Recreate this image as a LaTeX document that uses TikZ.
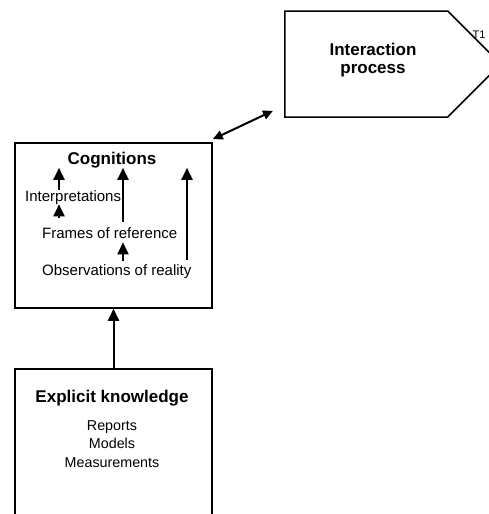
\documentclass[tikz,border=0pt]{standalone}
\usepackage{fontspec}
\setmainfont{Liberation Sans}
\usetikzlibrary{shapes.symbols,arrows.meta,calc}

\begin{document}
\begin{tikzpicture}[x=1pt,y=-1pt,
    box/.style={draw,line width=1.5pt,minimum width=197pt,inner sep=0pt},
    head/.style={font=\fontsize{17}{18}\selectfont\bfseries,inner sep=0pt},
    item/.style={font=\fontsize{15}{18}\selectfont,inner sep=0pt},
    small/.style={font=\fontsize{14.3}{18.5}\selectfont,inner sep=0pt},
    arr/.style={-{Triangle[length=12pt,width=11pt]},line width=2pt},
    dblarr/.style={{Triangle[length=10pt,width=9pt]}-{Triangle[length=10pt,width=9pt]},line width=2pt}]
      \clip (0,0) rectangle (489,514);
      %%%%%%%%%%%%%%%%%%%%%%%%%%%%%%%%%%%%%%%%%%%%%%%
      \node[draw,line width=1.5pt,shape=signal,signal to=east,signal pointer angle=90,
            minimum width=216pt,minimum height=106pt,inner sep=0pt,anchor=west] at (284,64) (ip) {};
      \node[head,align=center,anchor=north] at (373,43) (iptext) {Interaction\\process};
      \node[font=\fontsize{11}{13}\selectfont,inner sep=0pt,anchor=base] at (479,38) (t1) {T1};
      %%%%%%%%%%%%%%%%%%%%%%%%%%%%%%%%%%%%%%%%%%%%%%%
      \node[box,minimum height=165pt] at (113.5,225.5) (cogbox) {};
      \node[head,anchor=base] at (112,164) (cog) {Cognitions};
      \node[item,anchor=base west] at (25,201) (interp) {Interpretations};
      \node[item,anchor=base west] at (42,238) (frames) {Frames of reference};
      \node[item,anchor=base west] at (42,275) (obs) {Observations of reality};
      \coordinate (colA) at (59,0);
      \coordinate (colB) at (123,0);
      \coordinate (colC) at (187,0);
      \draw[arr] (interp.north -| colA) -- (cog.south -| colA);
      \draw[arr] ($(frames.north -| colA)+(0,-9)$) -- (interp.south -| colA);
      \draw[arr] ($(frames.north -| colB)+(0,-5)$) -- (cog.south -| colB);
      \draw[arr] ($(obs.north -| colB)+(0,-3)$) -- ($(frames.south -| colB)+(0,4)$);
      \draw[arr] ($(obs.north -| colC)+(0,-4)$) -- (cog.south -| colC);
      %%%%%%%%%%%%%%%%%%%%%%%%%%%%%%%%%%%%%%%%%%%%%%%
      \draw[dblarr] ($(cogbox.north east)+(0,-3)$) -- ($(ip.south west)+(-11,-7)$);
      %%%%%%%%%%%%%%%%%%%%%%%%%%%%%%%%%%%%%%%%%%%%%%%
      \node[box,minimum height=200pt,anchor=north] at (113.5,368) (expbox) {};
      \node[head,anchor=base] at (112,402) (exp) {Explicit knowledge};
      \node[small,align=center,anchor=north] at (112,420) (items) {Reports\\Models\\Measurements};
      \draw[arr] (expbox.north) -- (cogbox.south);
      %%%%%%%%%%%%%%%%%%%%%%%%%%%%%%%%%%%%%%%%%%%%%%%
    \end{tikzpicture}
\end{document}
